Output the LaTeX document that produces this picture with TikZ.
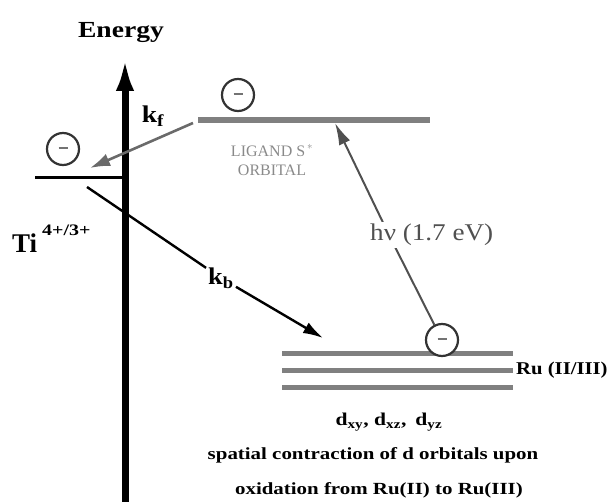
\documentclass[tikz,border=0pt]{standalone}
\usepackage{fontspec}
\usepackage{graphicx}
\setmainfont{Liberation Serif}
\usetikzlibrary{arrows.meta}
\newcommand{\hstr}[2]{\scalebox{#1}[1]{#2}}
\definecolor{lvlgray}{HTML}{808080}
\definecolor{arrgray}{HTML}{6A6A6A}
\definecolor{hvgray}{HTML}{505050}
\definecolor{txtgray}{HTML}{8A8A8A}
\tikzset{
  electron/.style={circle,draw=black!80,line width=2.2pt,minimum size=32pt,inner sep=0pt,fill=white,
    font=\color{black!55}},
  level/.style={line width=5pt,lvlgray},
  bottomtxt/.style={font=\bfseries\fontsize{17}{17}\selectfont,inner sep=0pt},
}
\newcommand{\eminus}{\rule[2pt]{9pt}{1.4pt}}
\begin{document}
\begin{tikzpicture}[x=1pt,y=-1pt]
\useasboundingbox (0,0) rectangle (615,502);
% Energy axis
\coordinate (axbot) at (125,502);
\coordinate (axtop) at (125,57);
\draw[line width=7pt,-{Latex[length=34pt,width=18pt]}] (axbot) -- (axtop);
\node[font=\bfseries\fontsize{23}{23}\selectfont,inner sep=0pt] (energy) at (121,33) {\hstr{1.2}{Energy}};
% Ti level
\coordinate (tiL) at (35,178);
\coordinate (tiR) at (124,178);
\draw[line width=3pt] (tiL) -- (tiR);
\node[electron] (eti) at (63,149) {\eminus};
\node[font=\bfseries\fontsize{27}{27}\selectfont,anchor=west,inner sep=0pt] (ti) at (12,243) {Ti};
\node[font=\bfseries\fontsize{16}{16}\selectfont,anchor=west,inner sep=0pt] (tisup) at (42,230) {\hstr{1.25}{4+/3+}};
% Ligand level
\coordinate (ligL) at (198,120);
\coordinate (ligR) at (430,120);
\draw[level,line width=6pt] (ligL) -- (ligR);
\node[electron] (elig) at (238,95) {\eminus};
\node[font=\fontsize{16}{16}\selectfont,txtgray,align=center,inner sep=0pt] (ligtxt) at (272,160) {LIGAND S$^{\,*}$\\[3pt]ORBITAL};
% Ru levels
\coordinate (ru1L) at (282,353); \coordinate (ru1R) at (513,353);
\coordinate (ru2L) at (282,370); \coordinate (ru2R) at (513,370);
\coordinate (ru3L) at (282,387); \coordinate (ru3R) at (513,387);
\draw[level] (ru1L) -- (ru1R);
\draw[level] (ru2L) -- (ru2R);
\draw[level] (ru3L) -- (ru3R);
\node[font=\bfseries\fontsize{18}{18}\selectfont,anchor=west,inner sep=0pt] (rulbl) at (516,370) {\hstr{1.15}{Ru (II/III)}};
\node[electron] (eru) at (442,340) {\eminus};
% kf arrow
\coordinate (kfstart) at (193,123);
\coordinate (kfend) at (90,168);
\draw[arrgray,line width=2.6pt,-{Latex[length=20pt,width=13pt]}] (kfstart) -- (kfend);
\node[font=\bfseries\fontsize{24}{24}\selectfont,inner sep=0pt] (kf) at (153,116) {\hstr{1.15}{k$_{\mathbf f}$}};
% kb arrow
\coordinate (kbstart) at (87,187);
\coordinate (kbend) at (323,338);
\node[font=\bfseries\fontsize{24}{24}\selectfont,fill=white,inner sep=2pt] (kb) at (221,278) {\hstr{1.1}{k$_{\mathbf b}$}};
\draw[line width=2.4pt,-{Latex[length=20pt,width=12pt]}] (kbstart) -- (kb) -- (kbend);
% hv arrow
\coordinate (hvtip) at (335,123);
\coordinate (hvmid) at (389,235);
\draw[hvgray,line width=2pt,-{Latex[length=22pt,width=12pt]}] (eru) -- (hvmid) -- (hvtip);
\node[font=\fontsize{24}{24}\selectfont,hvgray,fill=white,anchor=west,inner sep=2pt] (hv) at (368,235) {\hstr{1.13}{hν (1.7 eV)}};
% bottom text
\node[bottomtxt,font=\bfseries\fontsize{18}{18}\selectfont] (dlbl) at (389,422) {\hstr{1.2}{d$_{\mathbf{xy}}$, d$_{\mathbf{xz}}$,\, d$_{\mathbf{yz}}$}};
\node[bottomtxt] (line2) at (373,455) {\hstr{1.23}{spatial contraction of d orbitals upon}};
\node[bottomtxt] (line3) at (379,490) {\hstr{1.23}{oxidation from Ru(II) to Ru(III)}};
\end{tikzpicture}
\end{document}
